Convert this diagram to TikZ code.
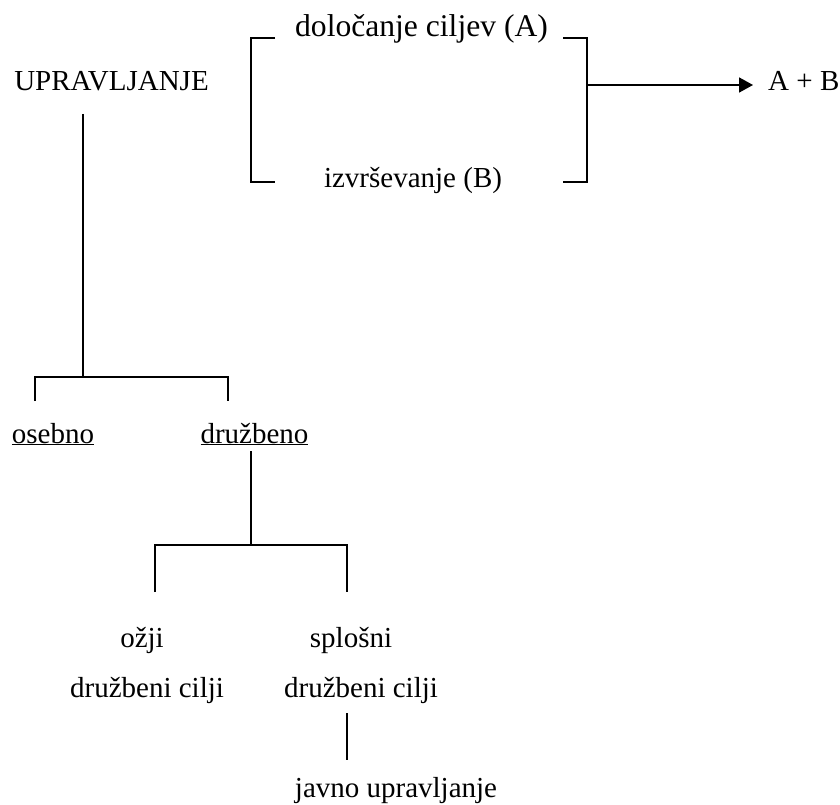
\documentclass[tikz,border=0pt]{standalone}
\usepackage{fontspec}
\setmainfont{Liberation Serif}
\usetikzlibrary{arrows.meta}
\tikzset{>={Triangle[length=14pt,width=15pt]}}
\tikzset{
  lbl/.style={font=\fontsize{29}{34}\selectfont, anchor=base, inner sep=0pt},
  biglbl/.style={lbl, font=\fontsize{31.6}{38}\selectfont},
  wire/.style={line width=1.8pt}
}

\begin{document}
\begin{tikzpicture}[x=1pt,y=-1pt]
  \useasboundingbox (0,0) rectangle (840,805);
  \node[biglbl] (dolocanje) at (421.5,37) {določanje ciljev (A)};
  \node[lbl] (izvrsevanje) at (413,188) {izvrševanje (B)};
  \node[lbl] (upr) at (111.5,91) {UPRAVLJANJE};
  \node[lbl, anchor=base west] (ab) at (768,91) {A + B};
  \node[lbl] (osebno) at (53,443) {\underline{osebno}};
  \node[lbl] (druzbeno) at (254.5,443) {\underline{družbeno}};
  \node[lbl] (ozji) at (142,647) {ožji};
  \node[lbl] (ozjicilji) at (147,697) {družbeni cilji};
  \node[lbl] (splosni) at (351,647) {splošni};
  \node[lbl] (splosnicilji) at (361,697) {družbeni cilji};
  \node[lbl] (javno) at (396,797) {javno upravljanje};

  \coordinate (lt) at (275,38);
  \coordinate (lb) at (275,182);
  \coordinate (rt) at (563,38);
  \coordinate (rb) at (563,182);
  \coordinate (rmid) at (587,85);
  \coordinate (abtip) at ([xshift=-15pt]ab.base west);
  \draw[wire] (lt) -- ++(-24,0) |- (lb);
  \draw[wire] (rt) -- ++(24,0) |- (rb);
  \draw[wire, ->] (rmid) -- (abtip |- rmid);

  \coordinate (stem1) at (83,114);
  \coordinate (fork1) at (83,377);
  \coordinate (osebnotop) at (35,401);
  \coordinate (druzbenotop) at (228,401);
  \draw[wire] (stem1) -- (fork1);
  \draw[wire] (osebnotop) |- (fork1) -| (druzbenotop);

  \coordinate (stem2) at (251,451);
  \coordinate (fork2) at (251,545);
  \coordinate (ozjitop) at (155,592);
  \coordinate (splosnitop) at (347,592);
  \draw[wire] (stem2) -- (fork2);
  \draw[wire] (ozjitop) |- (fork2) -| (splosnitop);

  \coordinate (stem3) at (347,713);
  \coordinate (javnotop) at (347,760);
  \draw[wire] (stem3) -- (javnotop);
\end{tikzpicture}
\end{document}
